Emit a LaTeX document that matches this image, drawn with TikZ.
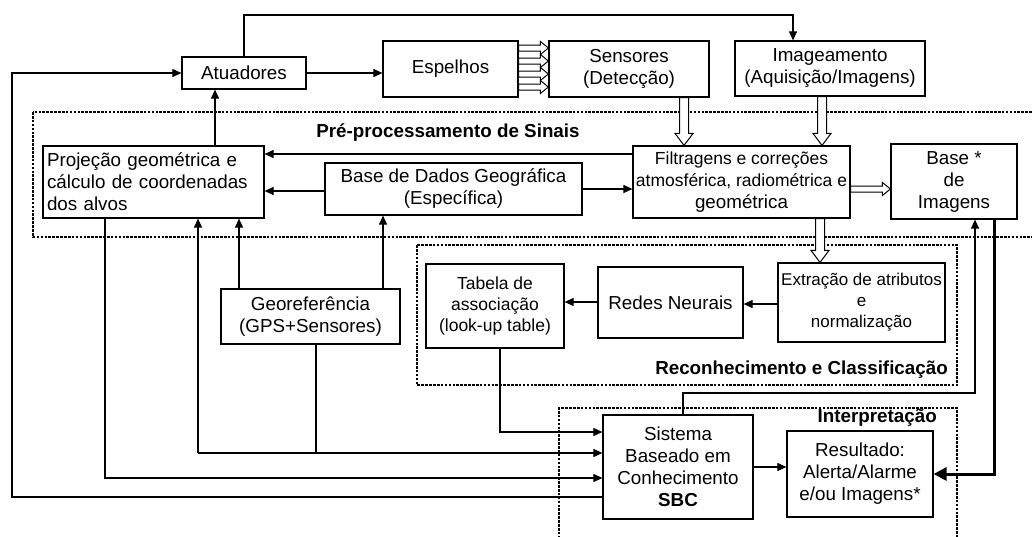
\documentclass[tikz,border=0pt]{standalone}
\usepackage{fontspec}
\setmainfont{Liberation Sans}
\usetikzlibrary{arrows.meta,calc}
\begin{document}
\begin{tikzpicture}[x=1pt,y=-1pt,
  box/.style={draw, line width=1.2pt, inner sep=0pt, align=center,
    font=\fontsize{18.8}{22}\selectfont},
  lbl/.style={inner sep=0pt, font=\fontsize{18.8}{22}\selectfont\bfseries},
  conn/.style={line width=1.1pt},
  arr/.style={line width=1.1pt, -{Triangle[length=9pt,width=8pt]}},
  thickarr/.style={line width=3pt, -{Triangle[length=13pt,width=13pt]}},
  dotbox/.style={line width=2.4pt, dash pattern=on 2.6pt off 1.3pt},
  blk/.style={draw, fill=white, line width=1pt, to path={
    let \p1=(\tikztostart), \p2=(\tikztotarget),
        \n1={atan2(\y2-\y1,\x2-\x1)}, \n2={veclen(\x2-\x1,\y2-\y1)}
    in {[shift={(\p1)}, rotate=\n1]
      (0pt,-\bs) -- ({\n2*1pt-\bl},-\bs) -- ({\n2*1pt-\bl},-\bh) -- ({\n2*1pt},0pt)
      -- ({\n2*1pt-\bl},\bh) -- ({\n2*1pt-\bl},\bs) -- (0pt,\bs) -- cycle}}},
  blkS/.style={blk, /utils/exec={\def\bs{3pt}\def\bh{6.5pt}\def\bl{8pt}}},
  blkL/.style={blk, /utils/exec={\def\bs{4.5pt}\def\bh{9pt}\def\bl{12pt}}},
]
\useasboundingbox (0,0) rectangle (1032,536);

% dotted group frames
\begin{scope}
\clip (0,0) rectangle (1032,536);
\draw[dotbox] (33,112) rectangle (1045,237);
\draw[dotbox] (417,245) rectangle (957,385);
\draw[dotbox] (559,550) -- (559,408) -- (957,408) -- (957,550);
\end{scope}

% group labels
\node[lbl] (lpre) at (448,133) {Pré-processamento de Sinais};
\node[lbl, anchor=east] (lrec) at (948,370) {Reconhecimento e Classificação};
\node[lbl, anchor=east] (lint) at (937,418) {Interpretação};

% boxes
\node[box, minimum width=124pt, minimum height=32pt] (atu) at (244,73) {Atuadores};
\node[box, minimum width=135pt, minimum height=56pt] (esp) at (450.5,69) {Espelhos};
\node[box, minimum width=160pt, minimum height=56pt] (sens) at (629,69) {Sensores\\(Detecção)};
\node[box, minimum width=190pt, minimum height=55pt] (img) at (830,68.5) {Imageamento\\(Aquisição/Imagens)};
\node[box, text width=213pt, inner xsep=4pt, align=left, minimum height=72pt] (proj) at (153.5,182)
  {Projeção geométrica e\\cálculo de coordenadas\\dos alvos};
\node[box, minimum width=257pt, minimum height=52pt] (base) at (453.5,189) {Base de Dados Geográfica\\(Específica)};
\node[box, minimum width=217pt, minimum height=72pt] (filt) at (741.5,182)
  {{\fontsize{17.5}{21.5}\selectfont Filtragens e correções}\\{\fontsize{17.5}{21.5}\selectfont atmosférica, radiométrica e}\\geométrica};
\node[box, minimum width=126pt, minimum height=75pt] (bimg) at (954,181.5) {Base *\\de\\Imagens};
\node[box, minimum width=167pt, minimum height=79pt, font=\fontsize{17}{21}\selectfont] (ext) at (861.5,302.5)
  {Extração de atributos\\e\\normalização};
\node[box, minimum width=145pt, minimum height=71pt] (redes) at (670.5,302.5) {Redes Neurais};
\node[box, minimum width=138pt, minimum height=84pt, font=\fontsize{17.5}{21}\selectfont] (tab) at (495,306)
  {Tabela de\\associação\\(look-up table)};
\node[box, minimum width=179pt, minimum height=55pt] (geo) at (310.5,316.5) {Georeferência\\(GPS+Sensores)};
\node[box, minimum width=150pt, minimum height=104pt] (sbc) at (678,467) {Sistema\\Baseado em\\Conhecimento\\\textbf{SBC}};
\node[box, minimum width=146pt, minimum height=86pt] (res) at (860,474) {Resultado:\\Alerta/Alarme\\e/ou Imagens*};

% helper coordinates
\coordinate (tr) at (793,15);
\coordinate (j1) at (316,453);
\coordinate (j2) at (198,453);
\coordinate (c2) at (975,393);
\coordinate (c3) at (12,497);

% plain connectors
\draw[arr] (atu.north) |- (tr) -- (tr |- img.north);
\draw[arr] (atu.east) -- (esp.west |- atu.east);
\draw[arr] (proj.north -| 215,0) -- (atu.south -| 215,0);
\draw[arr] (filt.west |- 0,154) -- (proj.east |- 0,154);
\draw[arr] (base.west |- 0,191) -- (proj.east |- 0,191);
\draw[arr] (base.east) -- (filt.west |- base.east);
\draw[arr] (ext.west |- 0,304) -- (redes.east |- 0,304);
\draw[arr] (redes.west |- 0,302) -- (tab.east |- 0,302);
\draw[arr] (geo.north -| 239,0) -- (proj.south -| 239,0);
\draw[arr] (geo.north -| 383,0) -- (base.south -| 383,0);
\draw[conn] (geo.south -| j1) -- (j1);
\draw[arr] (j2) -- (sbc.west |- j2);
\draw[arr] (j2) -- (proj.south -| j2);
\draw[arr] (proj.south -| 105,0) |- (sbc.west |- 0,478);
\draw[arr] (tab.south -| 500,0) |- (sbc.west |- 0,432);
\draw[arr] (sbc.west |- c3) -- (c3) |- (atu.west);
\draw[arr] (sbc.east |- 0,467) -- (res.west |- 0,467);
\draw[arr] (sbc.north -| 683,0) |- (c2) -- (c2 |- bimg.south);
\draw[thickarr] (bimg.south -| 994,0) |- (res.east);

% block (hollow) arrows
\draw[blkS] (esp.east |- 0,48) to (sens.west |- 0,48);
\draw[blkS] (esp.east |- 0,61) to (sens.west |- 0,61);
\draw[blkS] (esp.east |- 0,74) to (sens.west |- 0,74);
\draw[blkS] (esp.east |- 0,87) to (sens.west |- 0,87);
\draw[blkL] (sens.south -| 684,0) to (filt.north -| 684,0);
\draw[blkL] (img.south -| 822,0) to (filt.north -| 822,0);
\draw[blkS] (filt.east |- 0,189) to (bimg.west |- 0,189);
\draw[blkL] (filt.south -| 820,0) to (ext.north -| 820,0);
\end{tikzpicture}
\end{document}
